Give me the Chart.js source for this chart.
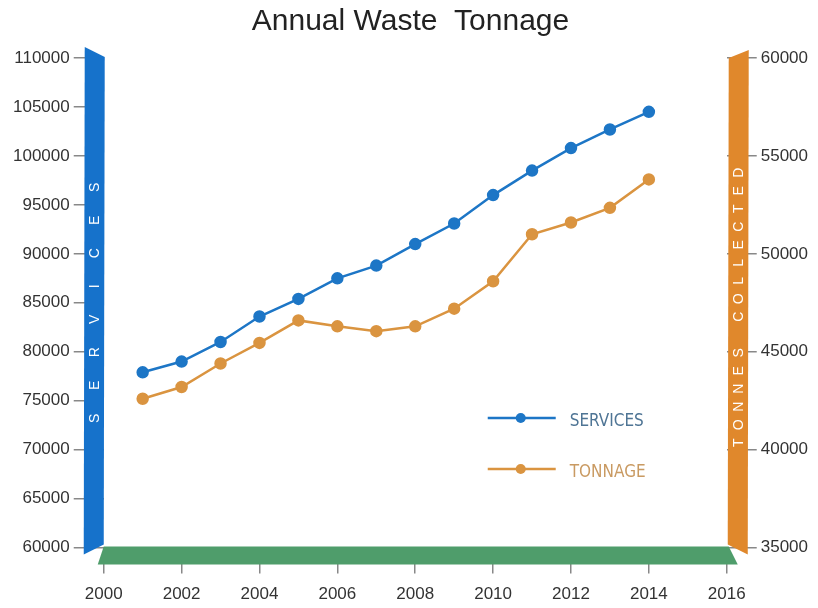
<!DOCTYPE html>
<html>
<head>
<meta charset="utf-8">
<title>Annual Waste Tonnage</title>
<script src="https://cdn.jsdelivr.net/npm/chart.js@4.4.1/dist/chart.umd.min.js"></script>
<style>
  body { margin: 0; background: #fff; }
</style>
</head>
<body>
<canvas id="chart" width="818" height="608"></canvas>
<script>
const years = [2001, 2002, 2003, 2004, 2005, 2006, 2007, 2008, 2009, 2010, 2011, 2012, 2013, 2014];
const services = [77900, 79000, 81000, 83600, 85400, 87500, 88800, 91000, 93100, 96000, 98500, 100800, 102700, 104500];
const tonnage = [42600, 43200, 44400, 45450, 46600, 46300, 46050, 46300, 47200, 48600, 51000, 51600, 52350, 53800];

const yearTicks = [2000, 2002, 2004, 2006, 2008, 2010, 2012, 2014, 2016];
const servicesTicks = [60000, 65000, 70000, 75000, 80000, 85000, 90000, 95000, 100000, 105000, 110000];
const tonnesTicks = [35000, 40000, 45000, 50000, 55000, 60000];

const BLUE = "#1d76c6";
const ORANGE = "#da9440";

Chart.defaults.font.family = "'Liberation Sans', Arial, sans-serif";
Chart.defaults.color = "#333";

function fillPoly(ctx, color, pts) {
  ctx.beginPath();
  ctx.moveTo(pts[0][0], pts[0][1]);
  for (let i = 1; i < pts.length; i++) ctx.lineTo(pts[i][0], pts[i][1]);
  ctx.closePath();
  ctx.fillStyle = color;
  ctx.fill();
}

// letters spread out evenly along a vertical ribbon
function spacedVertical(ctx, text, cx, cy, pitch) {
  ctx.save();
  ctx.translate(cx, cy);
  ctx.rotate(-Math.PI / 2);
  ctx.font = "14px 'Liberation Sans', Arial, sans-serif";
  ctx.fillStyle = "#fff";
  ctx.textAlign = "center";
  ctx.textBaseline = "middle";
  const start = -(text.length - 1) * pitch / 2;
  for (let i = 0; i < text.length; i++) {
    ctx.fillText(text[i], start + i * pitch, 0);
  }
  ctx.restore();
}

const ribbons = {
  id: "axisRibbons",
  afterDraw: (chart) => {
    const {ctx, chartArea: a} = chart;
    const mid = (a.top + a.bottom) / 2;
    ctx.save();
    // floor
    fillPoly(ctx, "#4f9d6b", [[a.left, a.bottom - 1], [a.right + 2, a.bottom - 1], [a.right + 11, a.bottom + 17], [a.left - 6, a.bottom + 17]]);
    // left wall
    fillPoly(ctx, "#1672cb", [[a.left - 19, a.top - 11], [a.left + 1, a.top - 1], [a.left, a.bottom - 3], [a.left - 20, a.bottom + 7]]);
    // right wall
    fillPoly(ctx, "#e0882c", [[a.right + 2, a.top], [a.right + 22, a.top - 8], [a.right + 21, a.bottom + 7], [a.right + 1, a.bottom - 3]]);
    ctx.restore();

    spacedVertical(ctx, "SERVICES", a.left - 9, mid, 33);
    spacedVertical(ctx, "TONNES COLLECTED", a.right + 12, mid + 5, 18);

    // legend inside the plot
    const rows = [
      {ds: chart.data.datasets[0], y: a.top + 360, text: "#4f7595"},
      {ds: chart.data.datasets[1], y: a.top + 411, text: "#c99a62"},
    ];
    const x0 = a.left + 384;
    ctx.save();
    rows.forEach(r => {
      ctx.strokeStyle = r.ds.borderColor;
      ctx.lineWidth = 2.5;
      ctx.beginPath();
      ctx.moveTo(x0, r.y);
      ctx.lineTo(x0 + 68, r.y);
      ctx.stroke();
      ctx.beginPath();
      ctx.arc(x0 + 33, r.y, 5, 0, Math.PI * 2);
      ctx.fillStyle = r.ds.pointBackgroundColor;
      ctx.fill();
      ctx.font = "17px 'Liberation Sans Narrow', 'DejaVu Sans Condensed', sans-serif";
      ctx.fillStyle = r.text;
      ctx.textAlign = "left";
      ctx.textBaseline = "middle";
      ctx.fillText(r.ds.label, x0 + 82, r.y + 4);
    });
    ctx.restore();
  }
};

function fixedTicks(list) {
  return (scale) => { scale.ticks = list.map(v => ({value: v})); };
}

new Chart(document.getElementById("chart"), {
  type: "line",
  data: {
    datasets: [
      {
        label: "SERVICES",
        data: years.map((y, i) => ({x: y, y: services[i]})),
        yAxisID: "y",
        borderColor: BLUE,
        pointBackgroundColor: BLUE,
        pointBorderColor: BLUE,
        borderWidth: 2.5,
        pointRadius: 5,
        tension: 0,
      },
      {
        label: "TONNAGE",
        data: years.map((y, i) => ({x: y, y: tonnage[i]})),
        yAxisID: "y1",
        borderColor: ORANGE,
        pointBackgroundColor: ORANGE,
        pointBorderColor: ORANGE,
        borderWidth: 2.5,
        pointRadius: 5,
        tension: 0,
      },
    ],
  },
  plugins: [ribbons],
  options: {
    responsive: false,
    animation: false,
    layout: {
      padding: {left: 9, right: 6, top: 0, bottom: -8},
    },
    plugins: {
      legend: {display: false},
      tooltip: {enabled: false},
      title: {
        display: true,
        text: "Annual Waste  Tonnage",
        color: "#222",
        font: {size: 30, weight: "normal"},
        padding: {top: 4, bottom: 18},
      },
    },
    scales: {
      x: {
        type: "linear",
        min: 2000,
        max: 2016,
        afterBuildTicks: fixedTicks(yearTicks),
        grid: {drawOnChartArea: false, tickLength: 26, color: "#888", lineWidth: 1.5},
        border: {display: false},
        ticks: {font: {size: 17}, padding: 11, callback: v => String(v)},
      },
      y: {
        position: "left",
        min: 60000,
        max: 110000,
        afterBuildTicks: fixedTicks(servicesTicks),
        grid: {drawOnChartArea: false, tickLength: 30, color: "#888", lineWidth: 1.5},
        border: {display: false},
        ticks: {font: {size: 17}, padding: 4, callback: v => String(v)},
      },
      y1: {
        position: "right",
        min: 35000,
        max: 60000,
        afterBuildTicks: fixedTicks(tonnesTicks),
        grid: {drawOnChartArea: false, tickLength: 30, color: "#888", lineWidth: 1.5},
        border: {display: false},
        ticks: {font: {size: 17}, padding: 4, callback: v => String(v)},
      },
    },
  },
});
</script>
</body>
</html>
